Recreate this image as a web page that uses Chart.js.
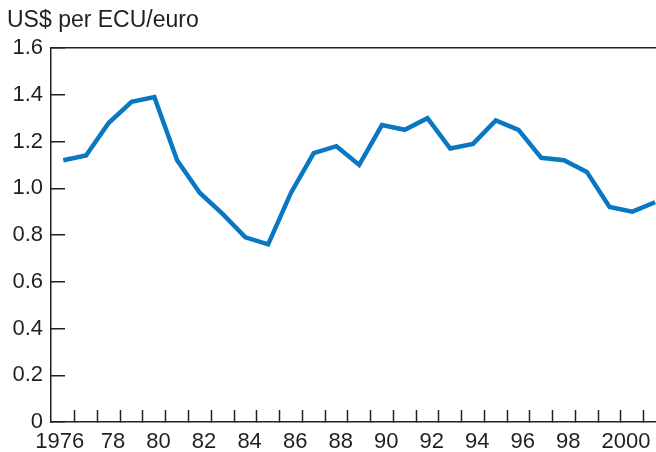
<!DOCTYPE html>
<html>
<head>
<meta charset="utf-8">
<script src="https://cdn.jsdelivr.net/npm/chart.js@4.4.1/dist/chart.umd.min.js"></script>
<style>
    html, body { margin: 0; padding: 0; background: #fff; }
    #wrap { width: 656px; height: 452px; }
</style>
</head>
<body>
<div id="wrap"><canvas id="myChart" width="656" height="452"></canvas></div>
<script>
// US$ per ECU/euro, annual
const years = [1976, 1977, 1978, 1979, 1980, 1981, 1982, 1983, 1984, 1985,
    1986, 1987, 1988, 1989, 1990, 1991, 1992, 1993, 1994, 1995,
    1996, 1997, 1998, 1999, 2000, 2001, 2002];
const rates = [1.12, 1.14, 1.28, 1.37, 1.39, 1.12, 0.98, 0.89, 0.79, 0.76,
    0.98, 1.15, 1.18, 1.10, 1.27, 1.25, 1.30, 1.17, 1.19, 1.29,
    1.25, 1.13, 1.12, 1.07, 0.92, 0.90, 0.94];
const labelYears = [1976, 1978, 1980, 1982, 1984, 1986, 1988, 1990,
    1992, 1994, 1996, 1998, 2000];
const yTickValues = [0, 0.2, 0.4, 0.6, 0.8, 1.0, 1.2, 1.4, 1.6];

const FONT = "'Liberation Sans', Arial, Helvetica, sans-serif";
const INK = '#231f20';

window.addEventListener('load', init);

function init() {
    const ctx = document.getElementById('myChart');

    new Chart(ctx, {
        type: 'line',
        data: {
            datasets: [{
                data: years.map((y, i) => ({ x: y, y: rates[i] })),
                borderColor: '#0a77c2',
                borderWidth: 4.5,
                borderJoinStyle: 'miter',
                pointRadius: 0,
                tension: 0,
                fill: false
            }]
        },
        options: {
            responsive: false,
            animation: false,
            layout: { padding: { left: 7, right: 0, top: 0, bottom: 0 } },
            plugins: {
                legend: { display: false },
                tooltip: { enabled: false },
                title: {
                    display: true,
                    text: 'US$ per ECU/euro',
                    align: 'start',
                    color: INK,
                    font: { family: FONT, size: 23, weight: 'normal' },
                    padding: { top: 7, bottom: 13.4 }
                }
            },
            scales: {
                x: {
                    type: 'linear',
                    min: 1975.46,
                    max: 2002.04,
                    afterBuildTicks: function (scale) {
                        // label anchors (even years) + year-boundary tick marks
                        const t = labelYears.map(y => ({ value: y === 1976 ? y - 0.88 : y, yr: y }));
                        for (let y = years[0]; y < years[years.length - 1]; y++) {
                            t.push({ value: y + 0.5 });
                        }
                        t.sort((a, b) => a.value - b.value);
                        scale.ticks = t;
                    },
                    afterFit: function (scale) {
                        scale.height = 30;
                        scale.paddingLeft = 0;
                        scale.paddingRight = 0;
                    },
                    border: { display: true, color: INK, width: 1.5 },
                    grid: {
                        drawOnChartArea: false,
                        drawTicks: true,
                        tickLength: -12,
                        tickWidth: 1.5,
                        tickColor: c => (c.tick && c.tick.yr) ? 'rgba(0,0,0,0)' : INK
                    },
                    ticks: {
                        autoSkip: false,
                        maxRotation: 0,
                        align: 'start',
                        labelOffset: -8,
                        padding: 19,
                        color: INK,
                        font: { family: FONT, size: 22 },
                        callback: function (v, i, ticks) {
                            const yr = ticks[i].yr;
                            if (!yr) return '';
                            return (yr === 1976 || yr >= 2000) ? String(yr) : String(yr).slice(2);
                        }
                    }
                },
                y: {
                    min: 0,
                    max: 1.6,
                    afterBuildTicks: function (scale) {
                        scale.ticks = yTickValues.map(v => ({ value: v }));
                    },
                    afterFit: function (scale) {
                        scale.width = 44;
                        scale.paddingTop = 0;
                        scale.paddingBottom = 0;
                    },
                    border: { display: true, color: INK, width: 1.5 },
                    grid: {
                        drawOnChartArea: true,
                        color: c => (c.tick && c.tick.value >= 1.59) ? INK : 'rgba(0,0,0,0)',
                        lineWidth: 1.5,
                        drawTicks: true,
                        tickLength: -14,
                        tickWidth: 1.5,
                        tickColor: INK
                    },
                    ticks: {
                        padding: 22,
                        color: INK,
                        font: { family: FONT, size: 22 },
                        callback: v => v === 0 ? '0' : v.toFixed(1)
                    }
                }
            }
        }
    });
}
</script>
</body>
</html>
